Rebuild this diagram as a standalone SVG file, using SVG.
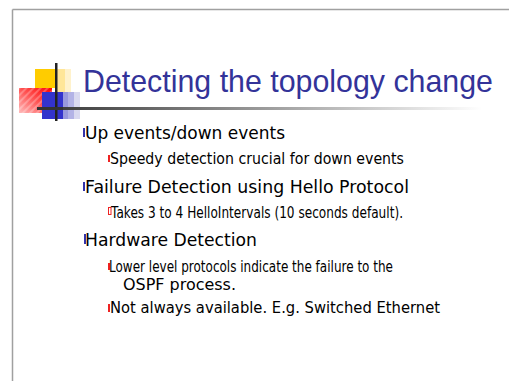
<svg xmlns="http://www.w3.org/2000/svg" width="509" height="381" viewBox="0 0 509 381">
<style>
.t1{font-family:"DejaVu Sans","Liberation Sans",sans-serif;font-size:17.5px;fill:#000}
.t2{font-family:"DejaVu Sans","Liberation Sans",sans-serif;font-size:15px;fill:#000}
.title{font-family:"Liberation Sans",Arial,sans-serif;font-size:30.5px;fill:#333399}
.b1{fill:#3333aa}
.b2{fill:#ee2222}
</style>
<defs>
<linearGradient id="redg" x1="1" y1="0" x2="0" y2="1">
<stop offset="0" stop-color="#ff0000"/>
<stop offset="0.5" stop-color="#ff5555"/>
<stop offset="1" stop-color="#ffbbbb"/>
</linearGradient>
<pattern id="stripes" width="5" height="5" patternUnits="userSpaceOnUse" patternTransform="rotate(45)">
<rect width="2" height="5" fill="#ffffff" opacity="0.25"/>
</pattern>
<linearGradient id="lineg" x1="0" y1="0" x2="1" y2="0">
<stop offset="0" stop-color="#333333"/>
<stop offset="1" stop-color="#ffffff"/>
</linearGradient>
</defs>
<rect width="509" height="381" fill="#fff"/>
<g id="frame">
<line x1="12.5" y1="9.5" x2="509" y2="9.5" stroke="#a0a0a0" stroke-width="1.5"/>
<line x1="12.5" y1="9.5" x2="12.5" y2="381" stroke="#a0a0a0" stroke-width="1.5"/>
</g>
<g id="logo">
<rect x="57" y="69" width="8" height="23" fill="#ffe699"/>
<rect x="65" y="69" width="6" height="23" fill="#fff2cc"/>
<rect x="35" y="69" width="21" height="19" fill="#ffcc00"/>
<rect x="19" y="88" width="33" height="25" fill="url(#redg)"/>
<rect x="19" y="88" width="33" height="25" fill="url(#stripes)"/>
<rect x="63" y="92" width="5" height="27" fill="#9999dd"/>
<rect x="68" y="92" width="6" height="27" fill="#b3b3e6"/>
<rect x="74" y="92" width="6" height="27" fill="#d9d9f0"/>
<rect x="42" y="92" width="21" height="27" fill="#3333cc"/>
<rect x="55" y="63" width="2.5" height="58" fill="#222"/>
<rect x="37" y="107" width="445" height="3" fill="url(#lineg)"/>
<rect x="37" y="107" width="26" height="3" fill="#333"/>
</g>
<g id="title">
<text class="title" x="83" y="92" textLength="410" lengthAdjust="spacingAndGlyphs">Detecting the topology change</text>
</g>
<g id="item1">
<rect class="b1" x="83" y="128" width="2" height="9"/>
<text class="t1" x="85" y="139" textLength="200" lengthAdjust="spacingAndGlyphs">Up events/down events</text>
</g>
<g id="item1a">
<rect class="b2" x="108" y="155" width="2" height="7"/>
<text class="t2" x="110" y="164" textLength="294" lengthAdjust="spacingAndGlyphs">Speedy detection crucial for down events</text>
</g>
<g id="item2">
<rect class="b1" x="83" y="182" width="2" height="9"/>
<text class="t1" x="85" y="193" textLength="324" lengthAdjust="spacingAndGlyphs">Failure Detection using Hello Protocol</text>
</g>
<g id="item2a">
<rect x="108.5" y="207.5" width="2.5" height="7" fill="none" stroke="#ee2222" stroke-width="1"/>
<text class="t2" x="111" y="218" textLength="292" lengthAdjust="spacingAndGlyphs">Takes 3 to 4 HelloIntervals (10 seconds default).</text>
</g>
<g id="item3">
<rect class="b1" x="84" y="234" width="2" height="10"/>
<text class="t1" x="85" y="246" textLength="172" lengthAdjust="spacingAndGlyphs">Hardware Detection</text>
</g>
<g id="item3a">
<rect class="b2" x="108" y="263" width="2" height="7"/>
<text class="t2" x="109" y="272" textLength="284" lengthAdjust="spacingAndGlyphs">Lower level protocols indicate the failure to the</text>
<text class="t2" x="123" y="290" textLength="113" lengthAdjust="spacingAndGlyphs">OSPF process.</text>
</g>
<g id="item3b">
<rect class="b2" x="108" y="304" width="2" height="8"/>
<text class="t2" x="110" y="313" textLength="330" lengthAdjust="spacingAndGlyphs">Not always available. E.g. Switched Ethernet</text>
</g>
</svg>
